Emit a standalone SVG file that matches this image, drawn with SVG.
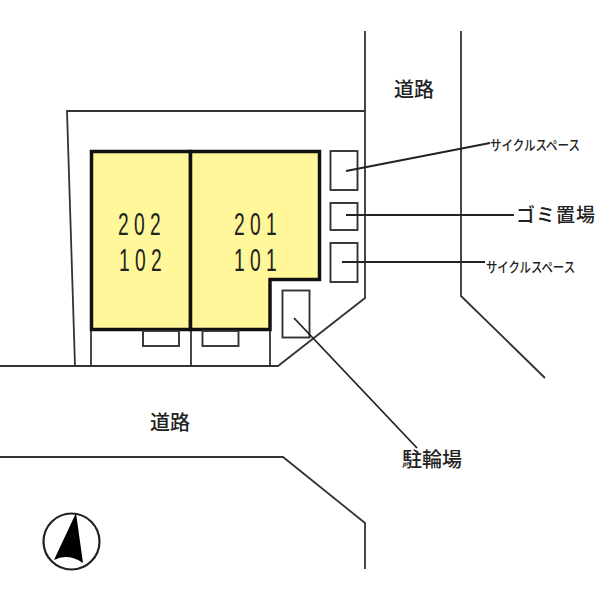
<svg xmlns="http://www.w3.org/2000/svg" width="600" height="600" viewBox="0 0 600 600">
<style>
.l{fill:none;stroke:#333;stroke-width:1.8}
.k{fill:none;stroke:#222;stroke-width:1.8}
.b{fill:#fff;stroke:#333;stroke-width:1.9}
.t{font-family:"Noto Sans CJK JP","Liberation Sans",sans-serif;fill:#222;font-weight:500}
.n{font-family:"Liberation Sans",sans-serif;font-size:31px;fill:#222;letter-spacing:8.500px}
</style>
<rect width="600" height="600" fill="#fff"/>
<g id="site" class="l">
<path class="l" d="M365 31V298L278 366H0"/>
<path class="l" d="M365 111H67L75 366"/>
<path class="l" d="M461 31V296L545 378"/>
<path class="l" d="M0 457H283L365 523V569"/>
<path class="l" d="M91 330V366M191 330V366M270 330V366"/>
</g>
<g id="unit-202">
<rect x="91.500" y="151.500" width="99" height="178" fill="#fff799" stroke="#111" stroke-width="3.500"/>
<text class="n" transform="translate(118 235) scale(.62 1)">202</text>
<text class="n" transform="translate(119 271) scale(.62 1)">102</text>
</g>
<g id="unit-201">
<path d="M190.500 151.500H319.500V279.500H270V329.500H190.500Z" fill="#fff799" stroke="#111" stroke-width="3.500"/>
<text class="n" transform="translate(234 235) scale(.62 1)">201</text>
<text class="n" transform="translate(234 271) scale(.62 1)">101</text>
</g>
<g id="step-left"><rect class="b" x="143" y="331" width="36" height="15"/></g>
<g id="step-right"><rect class="b" x="202.500" y="331" width="36" height="15"/></g>
<g id="cycle-space-1"><rect class="b" x="330.500" y="151" width="27" height="39"/></g>
<g id="garbage"><rect class="b" x="330.500" y="203" width="27" height="27"/></g>
<g id="cycle-space-2"><rect class="b" x="330.500" y="243" width="27" height="39"/></g>
<g id="bike-parking"><rect class="b" x="282.500" y="290.500" width="27" height="47"/></g>
<g id="connectors" class="k">
<path class="k" d="M346 171L490 143"/>
<path class="k" d="M346 215H514"/>
<path class="k" d="M342 262H485"/>
<path class="k" d="M294 318L417 448"/>
</g>
<g id="road-north"><text class="t" x="394" y="97" font-size="20">道路</text></g>
<g id="road-south"><text class="t" x="150" y="430" font-size="20">道路</text></g>
<g id="label-cycle-1"><text class="t" x="490" y="150" font-size="14" textLength="90" lengthAdjust="spacingAndGlyphs">サイクルスペース</text></g>
<g id="label-garbage"><text class="t" x="516" y="222" font-size="19" letter-spacing="1">ゴミ置場</text></g>
<g id="label-cycle-2"><text class="t" x="486" y="272" font-size="14" textLength="89" lengthAdjust="spacingAndGlyphs">サイクルスペース</text></g>
<g id="label-bike"><text class="t" x="402" y="467" font-size="20">駐輪場</text></g>
<g id="north-mark">
<circle cx="71.500" cy="541.500" r="28" fill="#fff" stroke="#222" stroke-width="2.200"/>
<path d="M76 513L54 560Q68 553 83 563Z" fill="#000"/>
</g>
</svg>
